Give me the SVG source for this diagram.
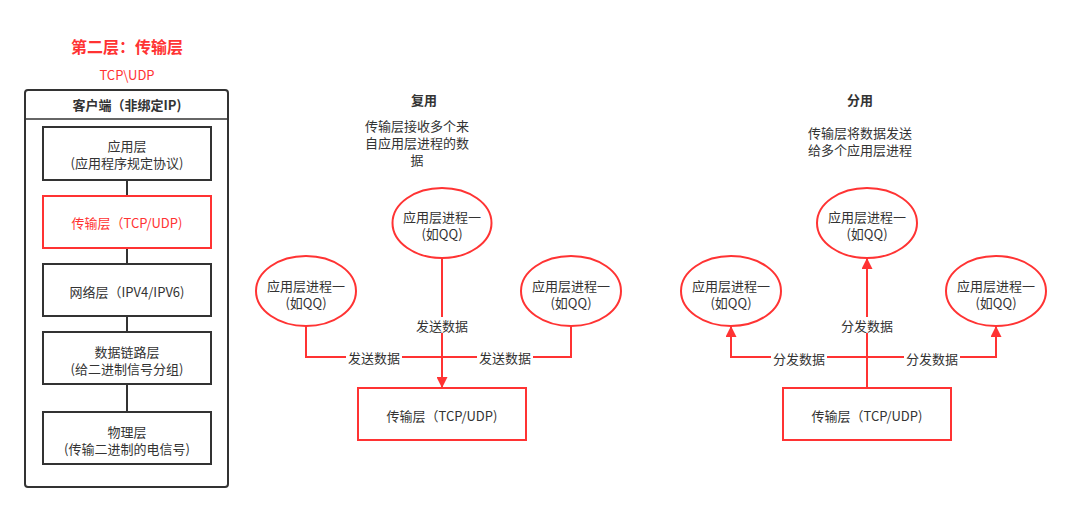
<svg xmlns="http://www.w3.org/2000/svg" width="1071" height="512" viewBox="0 0 1071 512">
  <style>
    text { font-family: "Noto Sans CJK SC", "Liberation Sans", sans-serif; font-size: 13px; fill: #333333; text-anchor: middle; dominant-baseline: central; }
    .red-text { fill: #FF3333; }
    .bold { font-weight: bold; }
    .layer { fill: #ffffff; stroke: #333333; stroke-width: 2; }
    .layer-hot { fill: #ffffff; stroke: #FF3333; stroke-width: 2; }
    .proc { fill: #ffffff; stroke: #FF3333; stroke-width: 2; }
    .link { fill: none; stroke: #FF3333; stroke-width: 2; }
    .stack-link { fill: none; stroke: #333333; stroke-width: 2; }
    .label-bg { fill: #ffffff; }
  </style>
  <defs>
    <marker id="arrow" viewBox="0 0 10 10" refX="10" refY="5" markerWidth="6.5" markerHeight="5.5" markerUnits="strokeWidth" orient="auto">
      <path d="M0,0 L10,5 L0,10 Z" fill="#FF3333"/>
    </marker>
  </defs>

  <rect width="1071" height="512" fill="#ffffff"/>

  <!-- Title -->
  <g id="title">
    <text x="127" y="46" class="red-text bold" style="font-size:16px">第二层：传输层</text>
    <text x="127" y="74" class="red-text">TCP\UDP</text>
  </g>

  <!-- Client protocol stack -->
  <g id="client-stack">
    <rect x="25" y="90" width="203" height="397" rx="3" fill="#ffffff" stroke="#333333" stroke-width="2"/>
    <line x1="25" y1="119" x2="228" y2="119" stroke="#333333" stroke-width="1.5"/>
    <text x="127" y="104" class="bold">客户端（非绑定IP)</text>
  </g>

  <g id="stack-connectors">
    <line class="stack-link" x1="127" y1="180" x2="127" y2="196"/>
    <line class="stack-link" x1="127" y1="248" x2="127" y2="264"/>
    <line class="stack-link" x1="127" y1="316" x2="127" y2="332"/>
    <line class="stack-link" x1="127" y1="384" x2="127" y2="412"/>
  </g>

  <g id="layer-app">
    <rect class="layer" x="43" y="127" width="168" height="53"/>
    <text x="127" y="145">应用层</text>
    <text x="127" y="162">(应用程序规定协议)</text>
  </g>
  <g id="layer-transport">
    <rect class="layer-hot" x="43" y="196" width="168" height="52"/>
    <text x="127" y="222" class="red-text">传输层（TCP/UDP)</text>
  </g>
  <g id="layer-network">
    <rect class="layer" x="43" y="264" width="168" height="52"/>
    <text x="127" y="291">网络层（IPV4/IPV6)</text>
  </g>
  <g id="layer-link">
    <rect class="layer" x="43" y="332" width="168" height="52"/>
    <text x="127" y="351">数据链路层</text>
    <text x="127" y="368">(给二进制信号分组)</text>
  </g>
  <g id="layer-physical">
    <rect class="layer" x="43" y="412" width="168" height="52"/>
    <text x="127" y="431">物理层</text>
    <text x="127" y="448">(传输二进制的电信号)</text>
  </g>

  <!-- Multiplexing -->
  <g id="mux-caption">
    <text x="424" y="99" class="bold">复用</text>
    <text x="417" y="125">传输层接收多个来</text>
    <text x="417" y="142">自应用层进程的数</text>
    <text x="417" y="159">据</text>
  </g>

  <g id="mux-connectors">
    <polyline class="link" points="306,326 306,357 442,357"/>
    <polyline class="link" points="571,326 571,357 442,357"/>
    <line class="link" x1="442" y1="258" x2="442" y2="388" stroke-width="2.5" marker-end="url(#arrow)"/>
    <rect class="label-bg" x="414" y="317" width="56" height="16"/>
    <text x="442" y="325">发送数据</text>
    <rect class="label-bg" x="346" y="349" width="56" height="16"/>
    <text x="374" y="357">发送数据</text>
    <rect class="label-bg" x="477" y="349" width="56" height="16"/>
    <text x="505" y="357">发送数据</text>
  </g>

  <g id="mux-proc-top">
    <ellipse class="proc" cx="442" cy="223" rx="49.5" ry="35"/>
    <text x="442" y="216">应用层进程一</text>
    <text x="442" y="233">(如QQ)</text>
  </g>
  <g id="mux-proc-left">
    <ellipse class="proc" cx="306" cy="291" rx="50" ry="35"/>
    <text x="306" y="285">应用层进程一</text>
    <text x="306" y="302">(如QQ)</text>
  </g>
  <g id="mux-proc-right">
    <ellipse class="proc" cx="571" cy="291" rx="50" ry="35"/>
    <text x="571" y="285">应用层进程一</text>
    <text x="571" y="302">(如QQ)</text>
  </g>
  <g id="mux-transport">
    <rect class="proc" x="358" y="388" width="168" height="52"/>
    <text x="442" y="415">传输层（TCP/UDP)</text>
  </g>

  <!-- Demultiplexing -->
  <g id="demux-caption">
    <text x="860" y="99" class="bold">分用</text>
    <text x="860" y="132">传输层将数据发送</text>
    <text x="860" y="149">给多个应用层进程</text>
  </g>

  <g id="demux-connectors">
    <line class="link" x1="867" y1="388" x2="867" y2="258" stroke-width="2.5" marker-end="url(#arrow)"/>
    <polyline class="link" points="867,357 731,357 731,326" marker-end="url(#arrow)"/>
    <polyline class="link" points="867,357 996,357 996,326" marker-end="url(#arrow)"/>
    <rect class="label-bg" x="839" y="317" width="56" height="16"/>
    <text x="867" y="325">分发数据</text>
    <rect class="label-bg" x="771" y="350" width="56" height="16"/>
    <text x="799" y="358">分发数据</text>
    <rect class="label-bg" x="904" y="350" width="56" height="16"/>
    <text x="932" y="358">分发数据</text>
  </g>

  <g id="demux-proc-top">
    <ellipse class="proc" cx="867" cy="223" rx="50" ry="35"/>
    <text x="867" y="216">应用层进程一</text>
    <text x="867" y="233">(如QQ)</text>
  </g>
  <g id="demux-proc-left">
    <ellipse class="proc" cx="731" cy="291" rx="50" ry="35"/>
    <text x="731" y="285">应用层进程一</text>
    <text x="731" y="302">(如QQ)</text>
  </g>
  <g id="demux-proc-right">
    <ellipse class="proc" cx="996" cy="291" rx="50" ry="35"/>
    <text x="996" y="285">应用层进程一</text>
    <text x="996" y="302">(如QQ)</text>
  </g>
  <g id="demux-transport">
    <rect class="proc" x="783" y="388" width="168" height="52"/>
    <text x="867" y="415">传输层（TCP/UDP)</text>
  </g>
</svg>
